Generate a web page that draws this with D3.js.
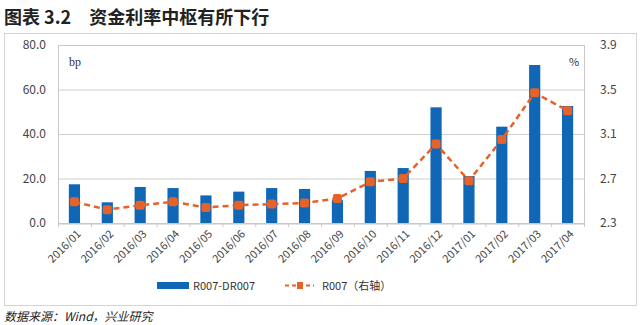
<!DOCTYPE html>
<html><head><meta charset="utf-8">
<script src="https://cdn.jsdelivr.net/npm/d3@7"></script>
<style>body{margin:0;background:#fff}svg{display:block}</style>
</head><body>
<script>
const categories = ["2016/01","2016/02","2016/03","2016/04","2016/05","2016/06","2016/07","2016/08","2016/09","2016/10","2016/11","2016/12","2017/01","2017/02","2017/03","2017/04"];
const spreadValues = [17.4,9.3,16.2,15.7,12.4,14.1,15.7,15.3,10.3,23.4,24.7,52.0,21.1,43.3,71.0,52.6];
const r007Values = [2.49,2.42,2.46,2.49,2.44,2.46,2.47,2.48,2.52,2.67,2.70,3.01,2.68,3.05,3.47,3.31];
const leftTicks = [0,20,40,60,80];
const rightTicks = [2.3,2.7,3.1,3.5,3.9];
const seriesNames = ["R007-DR007","R007（右轴）"];

const W=640,H=325;
const svg=d3.select("body").append("svg").attr("width",W).attr("height",H);
const cn='"Noto Sans CJK SC","Liberation Sans",sans-serif';
const blue="#0f67b5", orange="#e5622a";

svg.append("text").attr("x",4).attr("y",24).attr("font-family",cn).attr("font-weight","bold")
  .attr("font-size",18).attr("fill","#222").text("图表 3.2　资金利率中枢有所下行");
svg.append("rect").attr("x",4.5).attr("y",33.5).attr("width",632).attr("height",272)
  .attr("fill","#fff").attr("stroke","#d4d4d4");

const L=58,R=584,T=45,B=223;
const x=d3.scaleBand().domain(categories).range([L,R]).paddingInner(0.66).paddingOuter(0.33);
const xb=d3.scaleBand().domain(categories).range([L,R]);
const yL=d3.scaleLinear().domain([0,80]).range([B,T]);
const yR=d3.scaleLinear().domain([2.3,3.9]).range([B,T]);

// gridlines
svg.append("g").selectAll("line").data(leftTicks).join("line")
  .attr("x1",L).attr("x2",R).attr("y1",d=>yL(d)+0.5).attr("y2",d=>yL(d)+0.5)
  .attr("stroke","#cfcfcf");
svg.append("rect").attr("x",L+0.5).attr("y",T+0.5).attr("width",R-L).attr("height",B-T)
  .attr("fill","none").attr("stroke","#c8c8c8");

// left axis
const gl=svg.append("g").attr("transform",`translate(${L-9},0)`)
  .call(d3.axisLeft(yL).tickValues(leftTicks).tickFormat(d3.format(".1f")).tickSize(0));
gl.select(".domain").remove();
gl.selectAll("text").attr("font-family",cn).attr("font-size",12).attr("fill","#444");
const gr=svg.append("g").attr("transform",`translate(${R+13},0)`)
  .call(d3.axisRight(yR).tickValues(rightTicks).tickFormat(d3.format(".1f")).tickSize(0));
gr.select(".domain").remove();
gr.selectAll("text").attr("font-family",cn).attr("font-size",12).attr("fill","#444");

// bars
svg.append("g").selectAll("rect").data(spreadValues).join("rect")
  .attr("x",(d,i)=>x(categories[i])).attr("width",x.bandwidth())
  .attr("y",d=>yL(d)).attr("height",d=>B-yL(d)).attr("fill",blue);

// bottom axis
const gx=svg.append("g").attr("transform",`translate(0,${B+0.5})`)
  .call(d3.axisBottom(xb).tickSize(0));
gx.select(".domain").attr("stroke","#c8c8c8");
gx.selectAll("text").attr("font-family",cn).attr("font-size",11).attr("fill","#444")
  .attr("text-anchor","end").attr("dy",0)
  .attr("transform","translate(5,9) rotate(-45)");
svg.append("g").selectAll("line").data(d3.range(categories.length+1)).join("line")
  .attr("x1",i=>L+i*xb.step()+0.5).attr("x2",i=>L+i*xb.step()+0.5)
  .attr("y1",B).attr("y2",B+4).attr("stroke","#c8c8c8");

// line
const cx=i=>xb(categories[i])+xb.bandwidth()/2;
svg.append("path").datum(r007Values)
  .attr("d",d3.line().x((d,i)=>cx(i)).y(d=>yR(d)))
  .attr("fill","none").attr("stroke",orange).attr("stroke-width",2.5).attr("stroke-dasharray","6,4");
svg.append("g").selectAll("rect").data(r007Values).join("rect")
  .attr("x",(d,i)=>cx(i)-4.5).attr("y",d=>yR(d)-4.5).attr("width",9).attr("height",9)
  .attr("rx",2).attr("fill",orange);

svg.append("text").attr("x",69).attr("y",66).attr("font-family","Liberation Serif,serif")
  .attr("font-size",12).attr("fill","#333").text("bp");
svg.append("text").attr("x",569).attr("y",66).attr("font-family",cn)
  .attr("font-size",11).attr("fill","#333").text("%");

// legend
svg.append("rect").attr("x",157).attr("y",282).attr("width",32).attr("height",7).attr("fill",blue);
svg.append("text").attr("x",193).attr("y",290).attr("font-family",cn).attr("font-size",11)
  .attr("fill","#333").text(seriesNames[0]);
svg.append("line").attr("x1",285).attr("x2",314).attr("y1",285.5).attr("y2",285.5)
  .attr("stroke",orange).attr("stroke-width",2).attr("stroke-dasharray","4,3");
svg.append("rect").attr("x",297).attr("y",282).attr("width",6).attr("height",7).attr("fill",orange);
svg.append("text").attr("x",322).attr("y",290).attr("font-family",cn).attr("font-size",11)
  .attr("fill","#333").text(seriesNames[1]);

svg.append("text").attr("x",4).attr("y",321).attr("font-family",cn).attr("font-style","italic")
  .attr("font-size",12).attr("fill","#222").text("数据来源：Wind，兴业研究");
</script>
</body></html>
